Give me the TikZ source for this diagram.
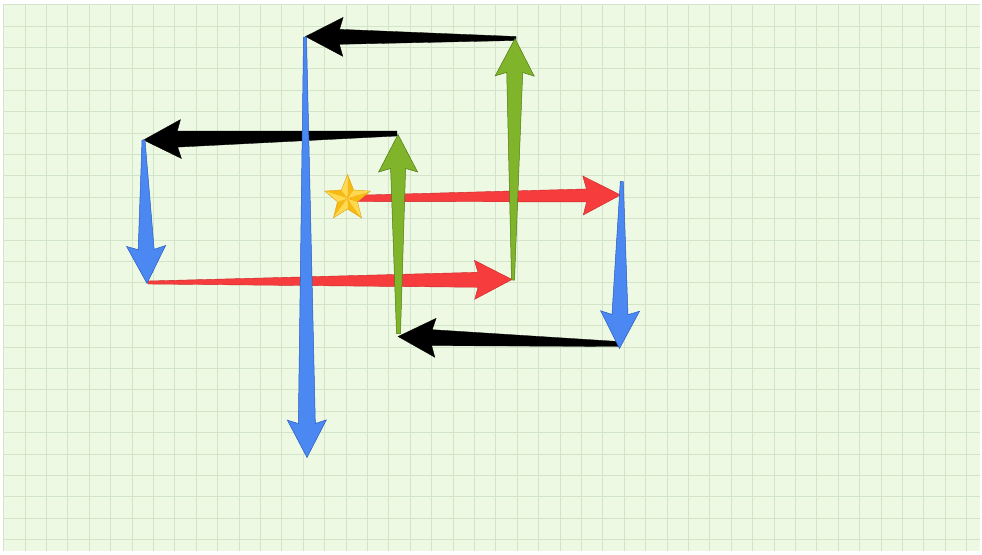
\documentclass[tikz,border=0pt]{standalone}
\usetikzlibrary{calc}
\definecolor{bggreen}{RGB}{237,249,227}
\definecolor{gridc}{RGB}{210,228,202}
\definecolor{arblue}{RGB}{76,136,242}
\definecolor{arblueD}{RGB}{40,90,190}
\definecolor{argreen}{RGB}{128,180,42}
\definecolor{argreenD}{RGB}{80,120,20}
\definecolor{arred}{RGB}{246,60,60}
\definecolor{arredD}{RGB}{200,40,40}
\definecolor{starlight}{RGB}{255,218,80}
\definecolor{stardark}{RGB}{246,186,18}
\definecolor{staredge}{RGB}{225,160,20}
\tikzset{
  gridline/.style={draw=gridc, line width=0.9pt},
  blkarrow/.style={fill=black, draw=black, line width=0.3pt, line join=miter},
  redarrow/.style={fill=arred, draw=arredD, line width=0.4pt, line join=miter},
  bluearrow/.style={fill=arblue, draw=arblueD, line width=0.5pt, line join=miter},
  greenarrow/.style={fill=argreen, draw=argreenD, line width=0.5pt, line join=miter},
}
% #1 style, #2 tail, #3 tip, #4 tail half width, #5 shaft half width at head
\newcommand{\fatarr}[5]{%
  \coordinate (hb) at ($(#3)!37.5pt!(#2)$);
  \coordinate (hj) at ($(#3)!34pt!(#2)$);
  \filldraw[#1] ($(#2)!#4!90:(#3)$) -- ($(hj)!#5!90:(#3)$) -- ($(hb)!19.5pt!90:(#3)$)
    -- (#3) -- ($(hb)!19.5pt!-90:(#3)$) -- ($(hj)!#5!-90:(#3)$) -- ($(#2)!#4!-90:(#3)$) -- cycle;
}
\begin{document}
\begin{tikzpicture}[x=1pt,y=-1pt]
\useasboundingbox (0,0) rectangle (982,554);
\fill[white] (0,0) rectangle (982,554);
\fill[bggreen] (4,4) rectangle (980,551);
\foreach \i in {0,...,45} { \draw[gridline] ({3.6+21.4*\i},4) -- ({3.6+21.4*\i},551); }
\foreach \j in {0,...,25} { \draw[gridline] (4,{4.6+21.4*\j}) -- (980,{4.6+21.4*\j}); }

% named end points
\coordinate (gRtip) at (515,38.5);
\coordinate (bkTtail) at (516,38.5);
\coordinate (bkTtip) at (305.5,36.5);
\coordinate (bTtail) at (305,37);
\coordinate (bTtip) at (307,457.5);
\coordinate (gLtip) at (398,134.5);
\coordinate (bkMtail) at (397,133.5);
\coordinate (bkMtip) at (143.5,140);
\coordinate (bLtail) at (143.5,140);
\coordinate (bLtip) at (147,283.5);
\coordinate (rLtail) at (148,282.5);
\coordinate (rLtip) at (512,279.5);
\coordinate (gRtail) at (513,280);
\coordinate (gLtail) at (398.5,333.5);
\coordinate (starc) at (347.5,198.5);
\coordinate (rUtip) at (620.5,195);
\coordinate (bRtail) at (621.8,181.5);
\coordinate (bRtip) at (619.5,348.5);
\coordinate (bkBtail) at (618.5,344);
\coordinate (bkBtip) at (398,336.5);

% black arrows
\fatarr{blkarrow}{bkTtail}{bkTtip}{2pt}{7.5pt}
\fatarr{blkarrow}{bkMtail}{bkMtip}{2.5pt}{8pt}
\fatarr{blkarrow}{bkBtail}{bkBtip}{2.5pt}{8pt}
% red arrows
\fatarr{redarrow}{rLtail}{rLtip}{1.5pt}{7.5pt}
\fatarr{redarrow}{starc}{rUtip}{3pt}{6.5pt}
% star
\begin{scope}[shift={(starc)}, yscale=-1]
  \foreach \k in {0,...,4} {
    \fill[starlight] (0,0) -- ({90+72*\k}:24) -- ({126+72*\k}:10.5) -- cycle;
    \fill[stardark] (0,0) -- ({126+72*\k}:10.5) -- ({162+72*\k}:24) -- cycle;
  }
  \draw[staredge, line width=0.4pt, line join=miter]
    (90:24) -- (126:10.5) -- (162:24) -- (198:10.5) -- (234:24) -- (270:10.5)
    -- (306:24) -- (342:10.5) -- (18:24) -- (54:10.5) -- cycle;
\end{scope}
% blue arrows
\fatarr{bluearrow}{bLtail}{bLtip}{1.5pt}{8pt}
\fatarr{bluearrow}{bTtail}{bTtip}{1.5pt}{8.5pt}
\fatarr{bluearrow}{bRtail}{bRtip}{1.5pt}{8pt}
% green arrows
\fatarr{greenarrow}{gLtail}{gLtip}{2pt}{7.5pt}
\fatarr{greenarrow}{gRtail}{gRtip}{1.5pt}{8pt}
\end{tikzpicture}
\end{document}
